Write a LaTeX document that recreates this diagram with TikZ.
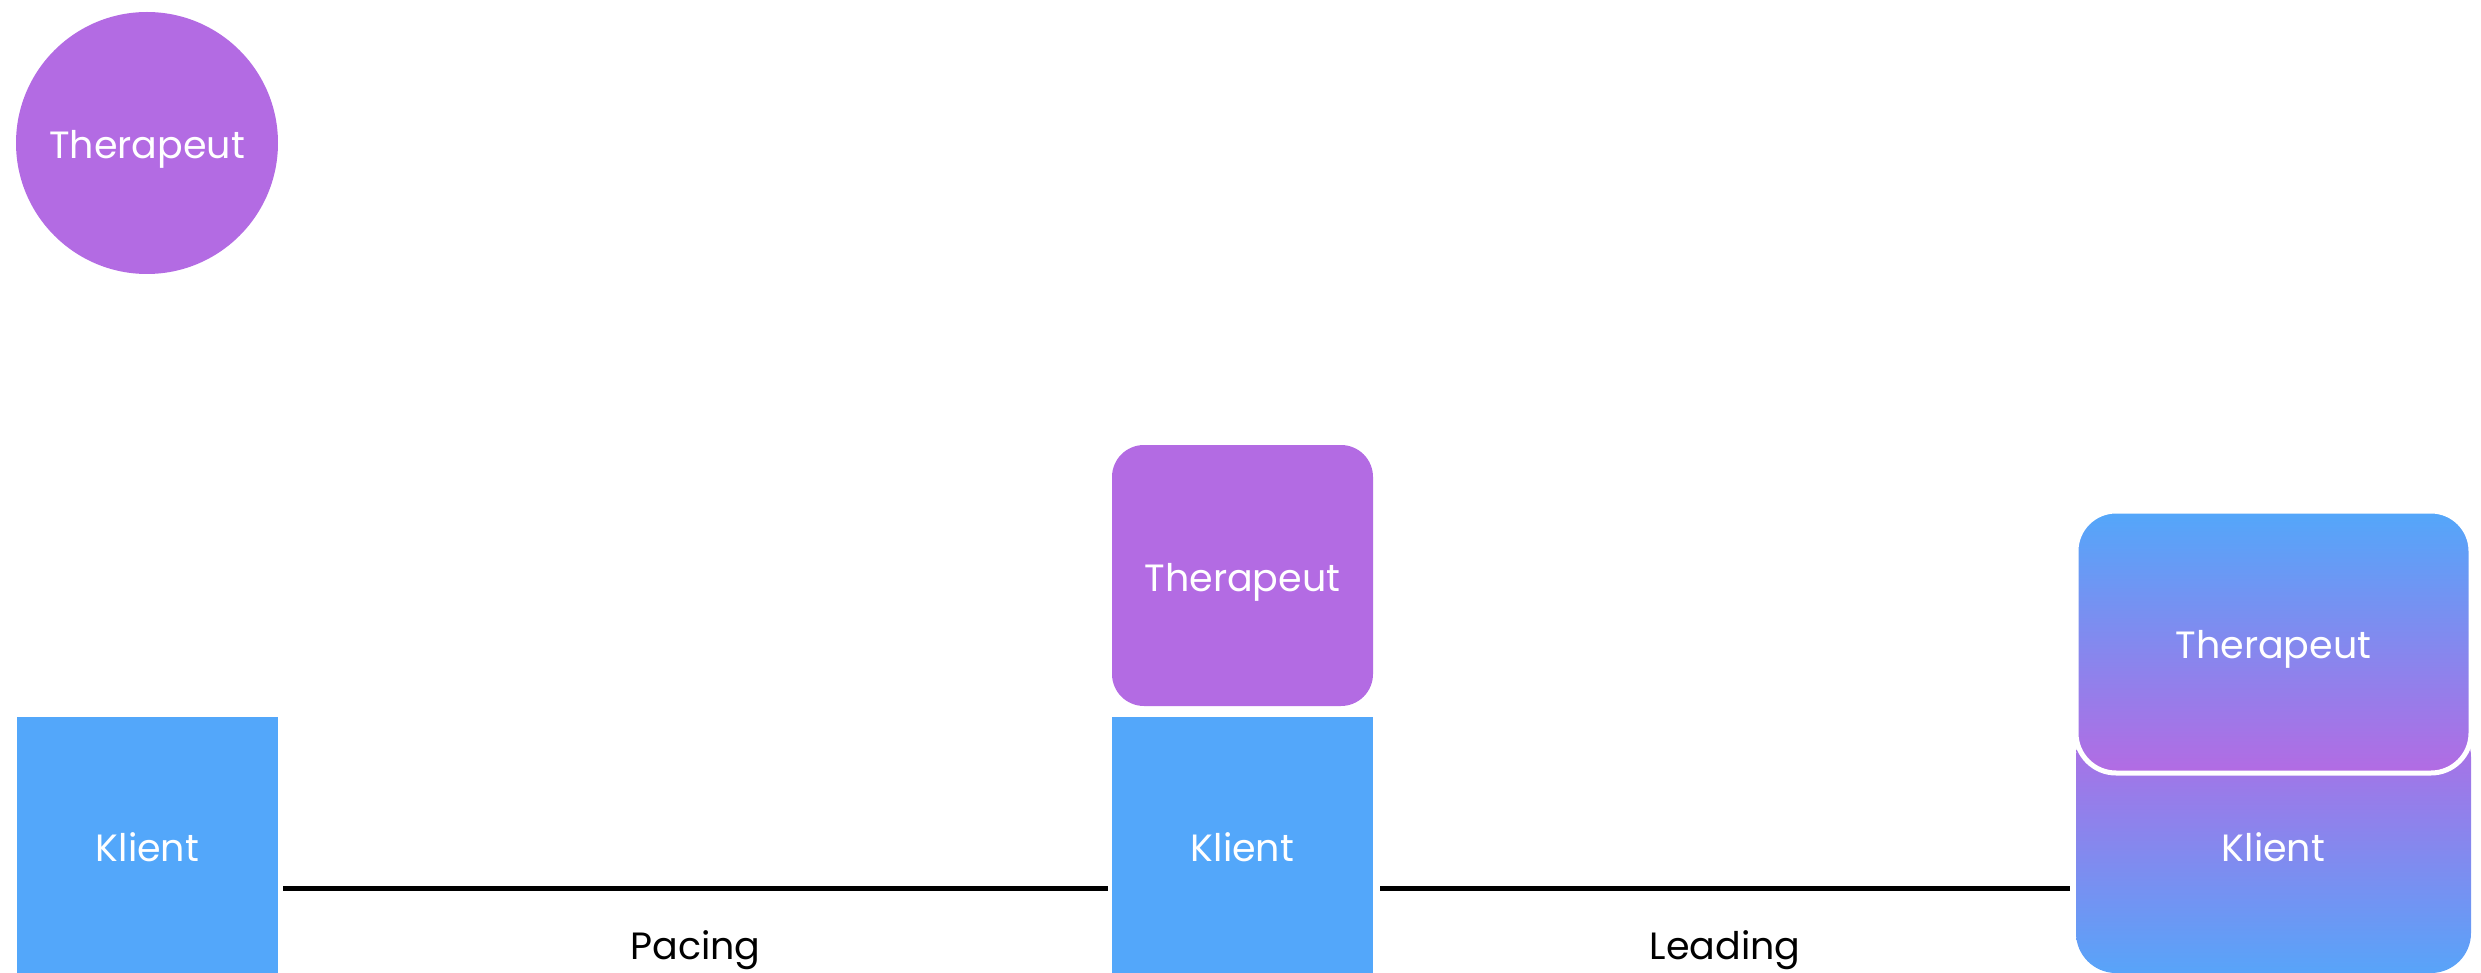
\documentclass[tikz,border=0pt]{standalone}
\usepackage{fontspec}
\setmainfont{Poppins}
\definecolor{purp}{HTML}{B36BE3}
\definecolor{blu}{HTML}{53A7FA}
\begin{document}
\begin{tikzpicture}[x=0.5pt,y=-0.5pt,
  lbl/.style={font=\fontsize{19}{23}\selectfont, text height=1.6em, text depth=0pt, inner sep=0pt},
  wlbl/.style={lbl, text=white},
  tcircle/.style={wlbl, circle, fill=purp, minimum size=131pt},
  kbox/.style={wlbl, rectangle, fill=blu, minimum width=130.5pt, minimum height=128pt},
  tbox/.style={wlbl, rectangle, fill=purp, rounded corners=16pt, minimum width=130.5pt, minimum height=130.5pt},
  kgrad/.style={wlbl, rectangle, rounded corners=20pt, top color=purp, bottom color=blu!95!purp, minimum width=197.5pt, minimum height=128pt},
  tgrad/.style={wlbl, rectangle, rounded corners=20pt, top color=blu, bottom color=purp, draw=white, line width=2.5pt, minimum width=197.5pt, minimum height=131pt},
  conn/.style={draw=black, line width=2.5pt}
]
\useasboundingbox (0,0) rectangle (2481,973);
\node[tcircle] (t0) at (147,143) {Therapeut};
\node[kbox] (k1) at (147.5,845) {Klient};
\node[tbox] (t2) at (1242.5,575.5) {Therapeut};
\node[kbox] (k2) at (1242.5,845) {Klient};
\node[kgrad] (k3) at (2273.5,845) {Klient};
\node[tgrad] (t3) at (2273.5,642) {Therapeut};
\draw[conn] ([shift={(5,43)}]k1.east) -- ([shift={(-4,43)}]k2.west)
  node[lbl, midway, yshift=-27.5pt] (pacing) {Pacing};
\draw[conn] ([shift={(7,43)}]k2.east) -- ([shift={(-6,43)}]k3.west)
  node[lbl, midway, yshift=-27.5pt] (leading) {Leading};
\end{tikzpicture}
\end{document}
